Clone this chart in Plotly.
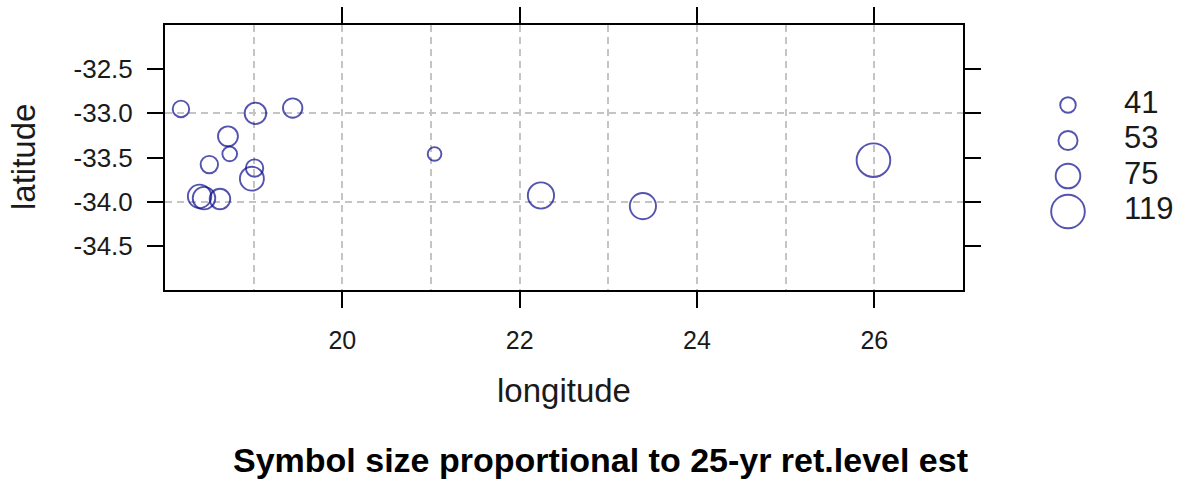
import numpy as np
import plotly.graph_objects as go

# ---- data ----
longitude = [18.18, 19.02, 19.44, 18.71, 18.73, 18.50, 19.01, 18.98, 18.39, 18.44, 18.62, 21.04, 22.24, 23.39, 25.99]
latitude = [-32.95, -33.00, -32.94, -33.26, -33.46, -33.58, -33.62, -33.74, -33.94, -33.96, -33.97, -33.46, -33.93, -34.05, -33.53]
ret_level = [44, 62, 54, 56, 38, 47, 47, 72, 70, 66, 58, 35, 82, 82, 119]
legend_values = [41, 53, 75, 119]
x_ticks = [20, 22, 24, 26]
y_ticks = [-32.5, -33.0, -33.5, -34.0, -34.5]
y_grid = [-33.0, -34.0]

W, H = 1190, 480
COL = "#0c0c8c"
LW = 1.9


def sym_size(v):
    return 4.0 * np.sqrt(np.asarray(v, dtype=float)) - 10.0


fig = go.Figure()
fig.add_trace(go.Scatter(
    x=longitude, y=latitude, mode="markers",
    marker=dict(symbol="circle-open", size=sym_size(ret_level), color=COL,
                line=dict(width=LW, color=COL)),
    showlegend=False, hoverinfo="x+y+text", text=[str(v) for v in ret_level],
))

# key (drawn on a pixel-coordinate overlay axis)
key_y = [105 + 35.5 * i for i in range(len(legend_values))]
fig.add_trace(go.Scatter(
    x=[1068] * len(legend_values), y=key_y, mode="markers",
    marker=dict(symbol="circle-open", size=sym_size(legend_values), color=COL,
                line=dict(width=LW, color=COL)),
    xaxis="x2", yaxis="y2", showlegend=False, hoverinfo="skip",
))
fig.add_trace(go.Scatter(
    x=[1124] * len(legend_values), y=key_y, mode="text",
    text=[str(v) for v in legend_values], textposition="middle right",
    textfont=dict(family="Liberation Sans, Arial", size=31, color="#1a1a1a"),
    xaxis="x2", yaxis="y2", showlegend=False, hoverinfo="skip",
))

grid = dict(griddash="7px,5px", gridcolor="#c4c4c4", gridwidth=1.8)
fig.update_layout(
    width=W, height=H,
    margin=dict(l=0, r=0, t=0, b=0),
    paper_bgcolor="white", plot_bgcolor="rgba(0,0,0,0)",
    font=dict(family="Liberation Sans, Arial", color="#1a1a1a"),
    xaxis=dict(
        domain=[165 / W, 963 / W], range=[18, 27],
        tickmode="array", tickvals=x_ticks,
        ticks="outside", ticklen=16, tickwidth=2, tickcolor="black",
        showline=True, linecolor="black", linewidth=2, mirror="ticks",
        showgrid=True, **grid,
        minor=dict(dtick=1, tick0=0, showgrid=True, ticks="", **grid),
        tickfont=dict(size=25), ticklabelstandoff=11,
        zeroline=False,
    ),
    yaxis=dict(
        domain=[1 - 290 / H, 1 - 25 / H], range=[-35, -32],
        tickmode="array", tickvals=y_ticks, ticktext=[f"{v:.1f}" for v in y_ticks],
        ticks="outside", ticklen=16, tickwidth=2, tickcolor="black",
        showline=True, linecolor="black", linewidth=2, mirror="ticks",
        showgrid=False,
        minor=dict(tickmode="array", tickvals=y_grid, showgrid=True, ticks="", **grid),
        tickfont=dict(size=26), ticklabelstandoff=9,
        zeroline=False,
    ),
    xaxis2=dict(domain=[0, 1], range=[0, W], visible=False, anchor="y2", fixedrange=True),
    yaxis2=dict(domain=[0, 1], range=[H, 0], visible=False, anchor="x2", fixedrange=True),
    annotations=[
        dict(text="longitude", x=(165 + 963) / 2 / W, y=1 - 390 / H, xref="paper", yref="paper",
             xanchor="center", yanchor="middle", showarrow=False, font=dict(size=33)),
        dict(text="latitude", x=23 / W, y=1 - 157 / H, xref="paper", yref="paper",
             xanchor="center", yanchor="middle", showarrow=False, textangle=-90, font=dict(size=33)),
        dict(text="<b>Symbol size proportional to 25-yr ret.level est</b>", x=600 / W, y=1 - 460 / H,
             xref="paper", yref="paper", xanchor="center", yanchor="middle", showarrow=False,
             font=dict(size=34, color="black")),
    ],
)

fig.write_html("out.html")
